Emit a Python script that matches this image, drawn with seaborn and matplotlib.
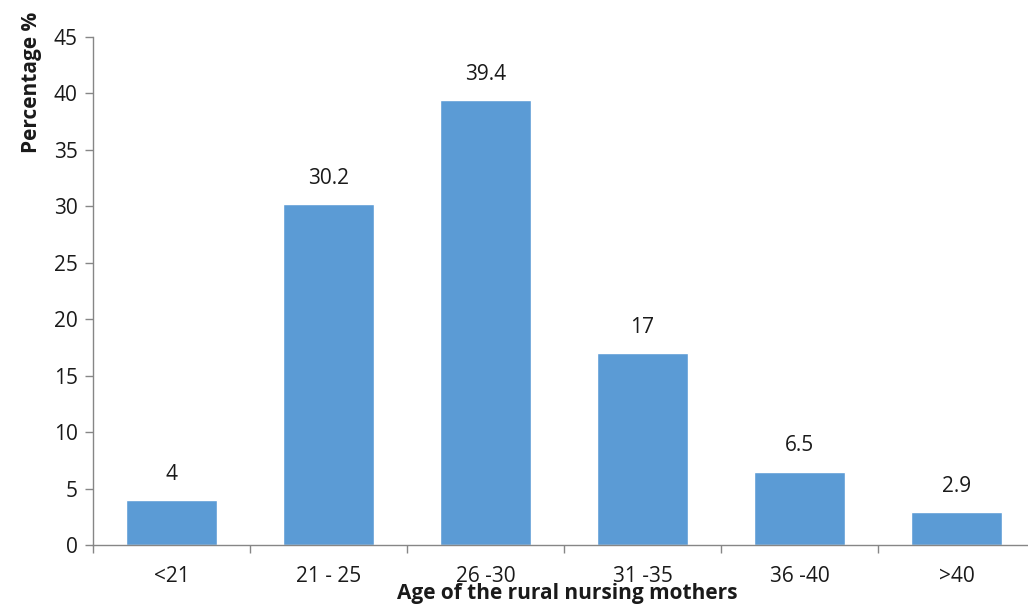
import matplotlib
matplotlib.use("Agg")
import matplotlib.pyplot as plt
import seaborn as sns
import pandas as pd
from matplotlib.ticker import FixedLocator, NullFormatter

# Age groups and share of rural nursing mothers (%)
age_groups = ["<21", "21 - 25", "26 -30", "31 -35", "36 -40", ">40"]
percentages = [4, 30.2, 39.4, 17, 6.5, 2.9]
y_ticks = [0, 5, 10, 15, 20, 25, 30, 35, 40, 45]

sns.set_theme(style="white")
plt.rcParams["font.family"] = ["Open Sans", "DejaVu Sans"]

df = pd.DataFrame({"age": age_groups, "pct": percentages})

fig = plt.figure(figsize=(10.28, 6.07), dpi=100)
ax = fig.add_axes([93 / 1028, 1 - 545 / 607, 942 / 1028, 508 / 607])

sns.barplot(data=df, x="age", y="pct", color="#5B9BD5", saturation=1,
            width=0.575, ax=ax)

ax.set_ylim(0, 45)
ax.set_xlim(-0.5, len(age_groups) - 0.5)
ax.set_yticks(y_ticks)
ax.set_yticklabels([str(t) for t in y_ticks], fontsize=15, color="#1a1a1a")

# category labels in the middle, tick marks on the boundaries
centers = list(range(len(age_groups)))
ax.xaxis.set_major_locator(FixedLocator([c - 0.5 for c in centers] + [len(age_groups) - 0.5]))
ax.xaxis.set_major_formatter(NullFormatter())
ax.set_xticks(centers, minor=True)
ax.set_xticklabels(age_groups, minor=True, fontsize=15, color="#1a1a1a")
ax.tick_params(axis="x", which="minor", length=0, pad=15)
ax.tick_params(axis="x", which="major", length=6, width=1, color="#868686", direction="out", bottom=True)
ax.tick_params(axis="y", length=6, width=1, color="#868686", direction="out", left=True, pad=5)

for side in ["top", "right"]:
    ax.spines[side].set_visible(False)
for side in ["left", "bottom"]:
    ax.spines[side].set_color("#868686")
    ax.spines[side].set_linewidth(1)

for i, v in enumerate(percentages):
    ax.annotate(f"{v:g}", (i, v), xytext=(0, 11), textcoords="offset points",
                ha="center", va="bottom", fontsize=15, color="#1a1a1a")

ax.set_xlabel("")
ax.set_ylabel("")
fig.text(567 / 1028, 1 - 593 / 607, "Age of the rural nursing mothers",
         ha="center", va="center", fontsize=15, fontweight="bold", color="#1a1a1a")
fig.text(32 / 1028, 1 - 82 / 607, "Percentage %", rotation=90,
         ha="center", va="center", fontsize=15, fontweight="bold", color="#1a1a1a")

fig.savefig("out.png", dpi=100, facecolor="white")
